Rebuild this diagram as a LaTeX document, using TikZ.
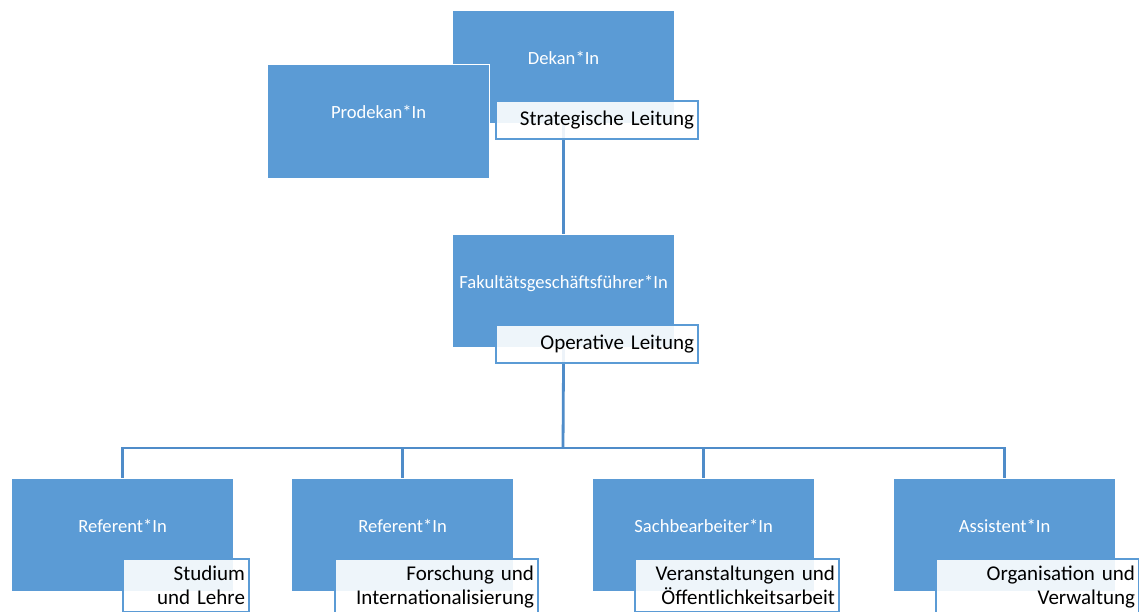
\documentclass[tikz,border=0pt]{standalone}
\usepackage{fontspec}
\setmainfont{Carlito}
\definecolor{boxblue}{HTML}{5B9BD5}
\definecolor{lineblue}{HTML}{4F8CC9}
\pgfdeclarelayer{background}
\pgfsetlayers{background,main}
\tikzset{
 rolebox/.style={rectangle, fill=boxblue, draw=white, line width=1.2pt, anchor=north west,
   minimum width=222pt, minimum height=113pt, inner sep=0pt, text=white,
   font=\fontsize{18.6}{22}\selectfont, text height=11pt, text depth=17pt},
 tagbox/.style={rectangle, fill=white, fill opacity=0.9, text opacity=1, draw=boxblue,
   draw opacity=1, line width=2pt, anchor=north west, inner xsep=4pt,
   font=\fontsize{21}{24}\selectfont, align=right},
 tagone/.style={tagbox, inner ysep=0pt, minimum height=38pt},
 tagtwo/.style={tagbox, inner ysep=7pt},
 conn/.style={draw=lineblue, line width=2.8pt}
}
\begin{document}
\begin{tikzpicture}[x=1pt,y=-1pt]
\useasboundingbox (0,0) rectangle (1139,612);
\clip (0,0) rectangle (1139,612);
% boxes
\node[rolebox] (dek) at (452,10) {Dekan*In};
\node[rolebox, minimum height=114pt] (prod) at (267,64) {Prodekan*In};
\node[rolebox] (fak) at (452,234) {Fakultätsgeschäftsführer*In};
\node[rolebox] (r1) at (11,478) {Referent*In};
\node[rolebox] (r2) at (291,478) {Referent*In};
\node[rolebox] (r3) at (592,478) {Sachbearbeiter*In};
\node[rolebox] (r4) at (893,478) {Assistent*In};
% labels
\node[tagone, minimum width=202pt, text width=194pt] (strat) at (495,100) {Strategische Leitung};
\node[tagone, minimum width=202pt, text width=194pt] (oper) at (495,324) {Operative Leitung};
\node[tagtwo, minimum width=126pt, text width=118pt] (t1) at (122,558) {Studium\\und Lehre};
\node[tagtwo, minimum width=203pt, text width=195pt] (t2) at (334,558) {Forschung und\\Internationalisierung};
\node[tagtwo, minimum width=204pt, text width=196pt] (t3) at (634,558) {Veranstaltungen und\\Öffentlichkeitsarbeit};
\node[tagtwo, minimum width=203pt, text width=195pt] (t4) at (935,558) {Organisation und\\Verwaltung};
% connectors
\coordinate (bus) at (563,448);
\begin{pgfonlayer}{background}
\fill[white] (0,0) rectangle (1139,612);
\draw[conn] (dek.south) -- (fak.north);
\draw[conn] (fak.south) -- (bus);
\draw[conn] (bus) -| (r1.north);
\draw[conn] (bus) -| (r2.north);
\draw[conn] (bus) -| (r3.north);
\draw[conn] (bus) -| (r4.north);
\end{pgfonlayer}
\end{tikzpicture}
\end{document}
